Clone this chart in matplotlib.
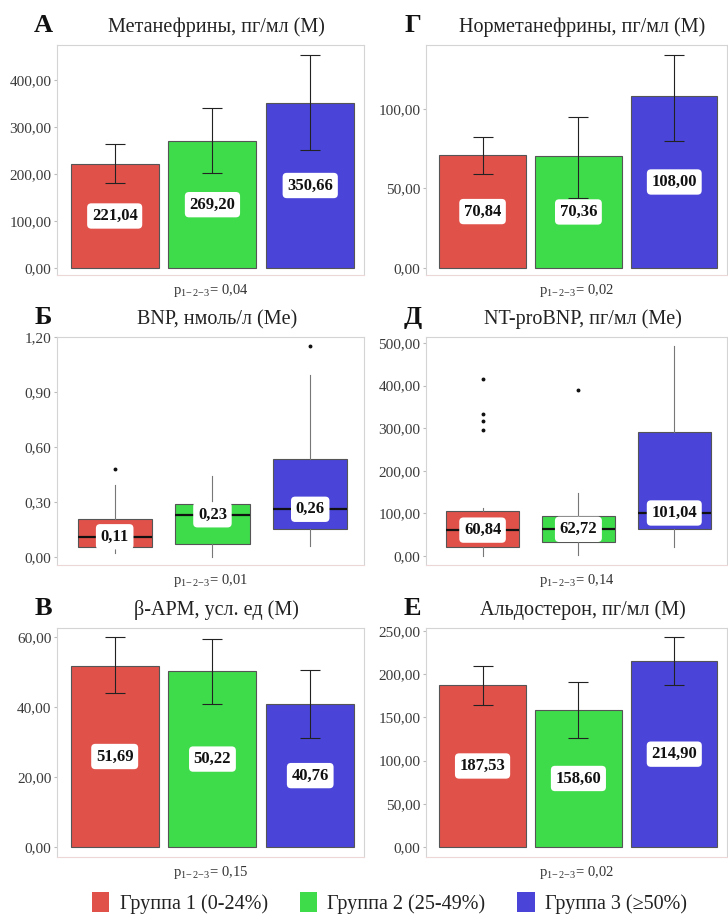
import matplotlib
matplotlib.use("Agg")
import matplotlib.pyplot as plt
from matplotlib.patches import Patch
from matplotlib.ticker import FuncFormatter

plt.rcParams['font.family'] = ['Liberation Serif', 'DejaVu Serif']
plt.rcParams['mathtext.fontset'] = 'custom'
plt.rcParams['mathtext.rm'] = 'Liberation Serif'

# ---------------- data ----------------
groups = ['Группа 1 (0-24%)', 'Группа 2 (25-49%)', 'Группа 3 (≥50%)']
colors = ['#E0514A', '#3EDC4B', '#4A45D8']

# A: Метанефрины
metan_mean = [221.04, 269.20, 350.66]
metan_lo = [181, 202, 251]
metan_hi = [264, 340, 453]

# Г: Норметанефрины
normet_mean = [70.84, 70.36, 108.00]
normet_lo = [59, 44, 80]
normet_hi = [82, 95, 134]

# В: β-АРМ
barm_mean = [51.69, 50.22, 40.76]
barm_lo = [44, 41, 31]
barm_hi = [60, 59.5, 50.6]

# Е: Альдостерон
aldo_mean = [187.53, 158.60, 214.90]
aldo_lo = [164, 126, 188]
aldo_hi = [210, 191, 243]

# Б: BNP (boxplot)
bnp_med = [0.11, 0.23, 0.26]
bnp_q1 = [0.055, 0.07, 0.153]
bnp_q3 = [0.207, 0.29, 0.535]
bnp_wlo = [0.02, 0.0, 0.06]
bnp_whi = [0.39, 0.44, 0.99]
bnp_fliers = [[0.48], [], [1.15]]

# Д: NT-proBNP (boxplot)
nt_med = [60.84, 62.72, 101.04]
nt_q1 = [21, 33, 63]
nt_q3 = [105, 94, 290]
nt_wlo = [0, 2, 21]
nt_whi = [113, 148, 493]
nt_fliers = [[415, 333, 317, 296], [390], []]

W, H = 728, 916
fig = plt.figure(figsize=(W / 100, H / 100), dpi=100)

def make_ax(left, top, right, bottom):
    return fig.add_axes([left / W, 1 - bottom / H, (right - left) / W, (bottom - top) / H])

fmt = FuncFormatter(lambda v, p: f"{v:.2f}".replace('.', ','))

def style(ax, ylim, yticks, letter, title, pval):
    ax.set_ylim(*ylim)
    ax.set_xlim(-0.59, 2.55)
    ax.set_yticks(yticks)
    ax.yaxis.set_major_formatter(fmt)
    ax.set_xticks([])
    for s in ax.spines.values():
        s.set_color('#d4d4d4')
        s.set_linewidth(0.8)
    ax.spines['bottom'].set_color('#ecd6d6')
    ax.tick_params(axis='y', length=2, color='#bbbbbb', labelsize=11,
                   labelcolor='#3a3a3a', pad=2)
    ax.text(0.52, 1.035, title, transform=ax.transAxes, ha='center', va='bottom',
            fontsize=14.5, color='#222222')
    ax.text(-0.045, 1.035, letter, transform=ax.transAxes, ha='center', va='bottom',
            fontsize=19, fontweight='bold', color='#111111')
    ax.text(0.5, -0.03, r'p$_{\mathrm{1\!-\!2\!-\!3}}$= ' + pval, transform=ax.transAxes,
            ha='center', va='top', fontsize=10.5, color='#333333')

def label(ax, x, y, txt):
    ax.text(x, y, txt, ha='center', va='center', fontsize=12, fontweight='bold',
            color='#111111', zorder=6,
            bbox=dict(boxstyle='round,pad=0.28,rounding_size=0.25', fc='white', ec='none'))

def bar_panel(ax, means, lo, hi):
    x = [0, 1, 2]
    ax.bar(x, means, width=0.9, color=colors, edgecolor='#555555', linewidth=0.8, zorder=2)
    yerr = [[m - l for m, l in zip(means, lo)], [h - m for m, h in zip(means, hi)]]
    ax.errorbar(x, means, yerr=yerr, fmt='none', ecolor='#222222', elinewidth=0.8,
                capsize=7, capthick=0.8, zorder=4)
    for xi, m in zip(x, means):
        label(ax, xi, m / 2, f"{m:.2f}".replace('.', ','))

def box_panel(ax, med, q1, q3, wlo, whi, fliers):
    stats = []
    for i in range(3):
        stats.append(dict(med=med[i], q1=q1[i], q3=q3[i], whislo=wlo[i], whishi=whi[i],
                          fliers=fliers[i]))
    bp = ax.bxp(stats, positions=[0, 1, 2], widths=0.76, patch_artist=True,
                showcaps=False, showfliers=True,
                medianprops=dict(color='#111111', linewidth=1.6),
                whiskerprops=dict(color='#777777', linewidth=0.8),
                boxprops=dict(edgecolor='#555555', linewidth=0.8),
                flierprops=dict(marker='o', markersize=1.8, markerfacecolor='#111111',
                                markeredgecolor='#111111'))
    for patch, c in zip(bp['boxes'], colors):
        patch.set_facecolor(c)
    for i in range(3):
        label(ax, i, med[i], f"{med[i]:.2f}".replace('.', ','))

L1, R1 = 57, 364
L2, R2 = 426, 727
rows = [(45, 275), (337, 565), (628, 857)]

axA = make_ax(L1, rows[0][0], R1, rows[0][1])
bar_panel(axA, metan_mean, metan_lo, metan_hi)
style(axA, (-14.9, 474), [0, 100, 200, 300, 400], 'А', 'Метанефрины, пг/мл (М)', '0,04')

axG = make_ax(L2, rows[0][0], R2, rows[0][1])
bar_panel(axG, normet_mean, normet_lo, normet_hi)
style(axG, (-4.4, 140), [0, 50, 100], 'Г', 'Норметанефрины, пг/мл (М)', '0,02')

axB = make_ax(L1, rows[1][0], R1, rows[1][1])
box_panel(axB, bnp_med, bnp_q1, bnp_q3, bnp_wlo, bnp_whi, bnp_fliers)
style(axB, (-0.044, 1.2), [0, 0.3, 0.6, 0.9, 1.2], 'Б', 'BNP, нмоль/л (Me)', '0,01')

axD = make_ax(L2, rows[1][0], R2, rows[1][1])
box_panel(axD, nt_med, nt_q1, nt_q3, nt_wlo, nt_whi, nt_fliers)
style(axD, (-21, 514), [0, 100, 200, 300, 400, 500], 'Д', 'NT-proBNP, пг/мл (Me)', '0,14')

axV = make_ax(L1, rows[2][0], R1, rows[2][1])
bar_panel(axV, barm_mean, barm_lo, barm_hi)
style(axV, (-2.9, 62.6), [0, 20, 40, 60], 'В', 'β-АРМ, усл. ед (М)', '0,15')

axE = make_ax(L2, rows[2][0], R2, rows[2][1])
bar_panel(axE, aldo_mean, aldo_lo, aldo_hi)
style(axE, (-11.6, 253.5), [0, 50, 100, 150, 200, 250], 'Е', 'Альдостерон, пг/мл (М)', '0,02')

handles = [Patch(facecolor=c, edgecolor='none', label=g) for c, g in zip(colors, groups)]
fig.legend(handles=handles, loc='center', bbox_to_anchor=(0.535, 1 - 903 / H), ncol=3,
           frameon=False, fontsize=14.5, handlelength=0.85, handleheight=1.1,
           handletextpad=0.5, columnspacing=1.6, labelcolor='#222222')

fig.savefig('out.png', dpi=100, facecolor='white')
